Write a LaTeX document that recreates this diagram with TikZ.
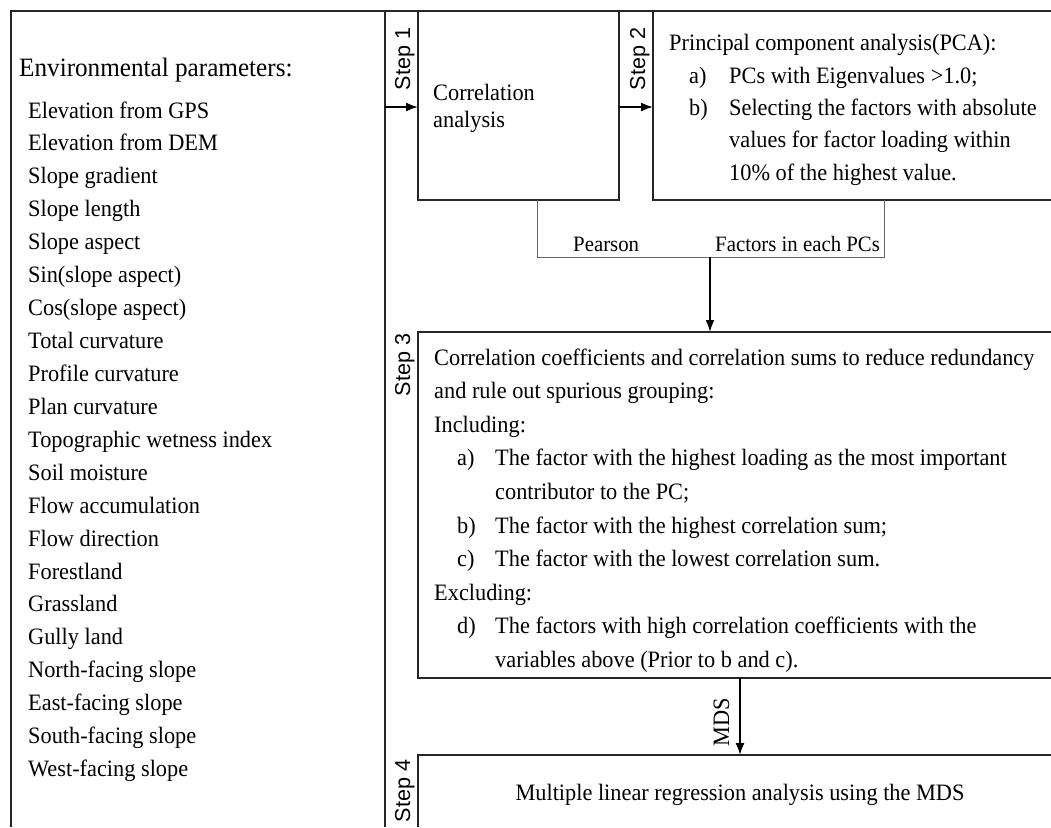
\documentclass[tikz,border=0pt]{standalone}
\usepackage{fontspec}
\setmainfont[FakeStretch=0.95]{Liberation Serif}
\setsansfont{Liberation Sans}
\usetikzlibrary{arrows.meta}
\begin{document}
\begin{tikzpicture}[x=1pt,y=-1pt,
  box/.style={line width=1.8pt, draw=black!85},
  thinline/.style={line width=1pt, draw=black!60},
  arr/.style={line width=1.8pt, draw=black, -{Latex[length=12pt,width=9pt]}},
  txt/.style={anchor=base west, inner sep=0pt, font=\fontsize{23.5}{27}\selectfont},
  lbl/.style={anchor=base, inner sep=0pt, rotate=90, font=\sffamily\fontsize{21.6}{24}\selectfont},
  small/.style={anchor=base west, inner sep=0pt, font=\fontsize{21.9}{25}\selectfont}]
\useasboundingbox (0,0) rectangle (1051,827);
\fill[white] (0,0) rectangle (1051,827);

% frame and boxes
\draw[box] (11,827) -- (11,11) -- (1051,11);
\draw[box] (385,11) -- (385,827);
\draw[box] (418,11) rectangle (619,200);
\draw[box] (653,11) -- (653,200) -- (1051,200);
\draw[box] (1051,332) -- (418,332) -- (418,678) -- (1051,678);
\draw[box] (1051,755) -- (418,755) -- (418,827);

% connector coordinates
\coordinate (s1a) at (385,107);
\coordinate (caL) at (418,107);
\coordinate (caR) at (619,107);
\coordinate (pcaL) at (653,107);
\coordinate (caB) at (537,200);
\coordinate (pcaB) at (884,200);
\coordinate (jl) at (537,257);
\coordinate (jr) at (884,257);
\coordinate (j) at (710,257);
\coordinate (s3T) at (710,332);
\coordinate (s3B) at (740,678);
\coordinate (s4T) at (740,755);

\draw[arr] (s1a) -- (caL);
\draw[arr] (caR) -- (pcaL);
\draw[thinline] (caB) -- (jl) -- (jr) -- (pcaB);
\draw[arr] (j) -- (s3T);
\draw[arr] (s3B) -- (s4T);

% step labels
\node[lbl] (st1) at (410,59) {Step 1};
\node[lbl] (st2) at (645,59) {Step 2};
\node[lbl] (st3) at (410,365) {Step 3};
\node[lbl] (st4) at (410,791) {Step 4};

% left column
\node[txt, font=\fontsize{26.5}{30}\selectfont] (env) at (19,76) {Environmental parameters:};
\foreach \t [count=\i] in {Elevation from GPS, Elevation from DEM, Slope gradient, Slope length, Slope aspect, Sin(slope aspect), Cos(slope aspect), Total curvature, Profile curvature, Plan curvature, Topographic wetness index, Soil moisture, Flow accumulation, Flow direction, Forestland, Grassland, Gully land, North-facing slope, East-facing slope, South-facing slope, West-facing slope}
  \node[txt] (p\i) at (28,{118+32.93*(\i-1)}) {\t};

% correlation analysis
\node[txt] (ca1) at (433,100) {Correlation};
\node[txt] (ca2) at (433,127) {analysis};

% PCA
\node[txt] (pc0) at (669,50) {Principal component analysis(PCA):};
\node[txt] (pca) at (689,83) {a)};
\node[txt] (pc1) at (729,83) {PCs with Eigenvalues >1.0;};
\node[txt] (pcb) at (689,115) {b)};
\node[txt] (pc2) at (729,115) {Selecting the factors with absolute};
\node[txt] (pc3) at (729,147) {values for factor loading within};
\node[txt] (pc4) at (729,180) {10\% of the highest value.};

% connector labels
\node[small] (pear) at (573,251) {Pearson};
\node[small] (fac) at (715,251) {Factors in each PCs};

% step 3
\node[txt] (c0) at (434,365) {Correlation coefficients and correlation sums to reduce redundancy};
\node[txt] (c1) at (434,398.6) {and rule out spurious grouping:};
\node[txt] (c2) at (434,432.2) {Including:};
\node[txt] (ca) at (457,465.8) {a)};
\node[txt] (c3) at (495,465.8) {The factor with the highest loading as the most important};
\node[txt] (c4) at (495,499.4) {contributor to the PC;};
\node[txt] (cb) at (457,533) {b)};
\node[txt] (c5) at (495,533) {The factor with the highest correlation sum;};
\node[txt] (cc) at (457,566.6) {c)};
\node[txt] (c6) at (495,566.6) {The factor with the lowest correlation sum.};
\node[txt] (c7) at (434,600.2) {Excluding:};
\node[txt] (cd) at (457,633.8) {d)};
\node[txt] (c8) at (495,633.8) {The factors with high correlation coefficients with the};
\node[txt] (c9) at (495,667.4) {variables above (Prior to b and c).};

% MDS and step 4
\node[anchor=base, inner sep=0pt, rotate=90, font=\fontsize{23.5}{27}\selectfont] (mds) at (729,722) {MDS};
\node[anchor=base, inner sep=0pt, font=\fontsize{23.5}{27}\selectfont] (mlr) at (740,800) {Multiple linear regression analysis using the MDS};
\end{tikzpicture}
\end{document}
